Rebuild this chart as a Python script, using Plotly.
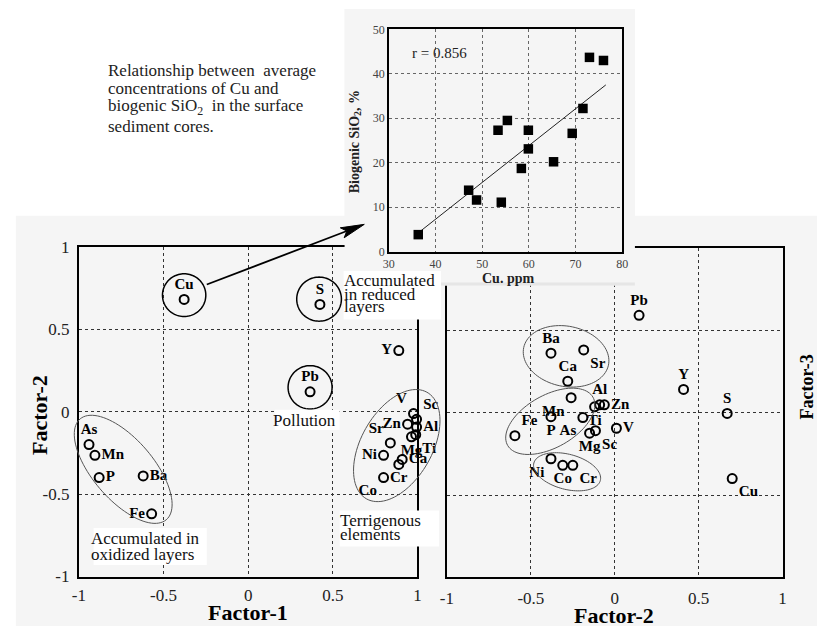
import numpy as np
import plotly.graph_objects as go

W, H = 823, 636
FONT = "Liberation Serif"

# ---------------- data ----------------
# Left panel: Factor-1 vs Factor-2
elements_f12 = ["Cu", "S", "Y", "Pb", "As", "Mn", "P", "Ba", "Fe",
                "V", "Sc", "Zn", "Al", "Ti", "Mg", "Sr", "Ni", "Ca", "Cr", "Co"]
factor1 = [-0.378, 0.424, 0.89, 0.366, -0.94, -0.905, -0.88, -0.62, -0.57,
           0.977, 0.995, 0.942, 0.995, 0.99, 0.965, 0.84, 0.80, 0.91, 0.89, 0.80]
factor2_left = [0.68, 0.65, 0.37, 0.12, -0.20, -0.265, -0.40, -0.39, -0.62,
                -0.012, -0.047, -0.076, -0.094, -0.14, -0.153, -0.19, -0.265, -0.29, -0.32, -0.40]

# Right panel: Factor-2 vs Factor-3
elements_f23 = ["Pb", "Ba", "Sr", "Ca", "Mn", "Al", "Zn", "Ti", "P", "As",
                "Fe", "V", "Sc", "Mg", "Ni", "Co", "Cr", "Y", "S", "Cu"]
factor2_right = [0.145, -0.38, -0.185, -0.28, -0.26, -0.09, -0.062, -0.12, -0.38, -0.19,
                 -0.595, 0.01, -0.115, -0.15, -0.38, -0.31, -0.25, 0.41, 0.67, 0.70]
factor3 = [0.59, 0.36, 0.38, 0.19, 0.09, 0.047, 0.047, 0.035, -0.025, -0.03,
           -0.14, -0.095, -0.11, -0.125, -0.28, -0.32, -0.32, 0.14, -0.005, -0.40]

# Inset: Cu (ppm) vs biogenic SiO2 (%)
cu_ppm = [36.3, 47.1, 48.8, 54.1, 53.4, 55.4, 58.4, 59.9, 59.9, 65.3, 69.3, 71.6, 73.0, 76.0]
biogenic_sio2 = [3.8, 13.8, 11.6, 11.1, 27.3, 29.5, 18.7, 27.3, 23.1, 20.2, 26.6, 32.2, 43.7, 43.0]
trend_cu = [36.3, 76.5]
trend_sio2 = [4.2, 37.5]
r_text = "r = 0.856"

axis_ticks = [-1, -0.5, 0, 0.5, 1]
axis_ticktext = ["-1", "-0.5", "0", "0.5", "1"]
inset_x_ticks = [30, 40, 50, 60, 70, 80]
inset_y_ticks = [0, 10, 20, 30, 40, 50]

# ---------------- label placement (style) ----------------
pos_f12 = ["top center", "top center", "middle left", "top center", "top center",
           "middle right", "middle right", "middle right", "middle left",
           "top left", "top right", "middle left", "middle right", "bottom right",
           "bottom center", "top left", "middle left", "middle right", "bottom center", "bottom left"]
pos_f23 = ["top center", "top center", "bottom right", "top center", "bottom left",
           "top center", "middle right", "bottom center", "bottom center", "bottom left",
           "top right", "middle right", "bottom right", "bottom center", "bottom left",
           "bottom center", "bottom right", "top center", "top center", "bottom right"]

# ---------------- pixel layout ----------------
LEFT = (73, 417, 245, 585)
RIGHT = (447, 788, 246, 586)
BOX = (343, 638, 0, 285)
INSET = (388, 625, 21, 250)


def xdom(p):
    return [p[0] / W, p[1] / W]


def ydom(p):
    return [1 - p[3] / H, 1 - p[2] / H]


def to_px(panel, x, y):
    x0, x1, y0, y1 = panel
    return x0 + (x + 1) / 2 * (x1 - x0), y1 - (y + 1) / 2 * (y1 - y0)


def ellipse_path(panel, cx, cy, a, b, ang):
    s = (panel[1] - panel[0]) / 2
    pcx, pcy = to_px(panel, cx, cy)
    t = np.linspace(0, 2 * np.pi, 96, endpoint=False)
    th = np.radians(ang)
    ex, ey = a * s * np.cos(t), b * s * np.sin(t)
    X = pcx + ex * np.cos(th) - ey * np.sin(th)
    Y = pcy - (ex * np.sin(th) + ey * np.cos(th))
    pts = ["%.5f,%.5f" % (xx / W, 1 - yy / H) for xx, yy in zip(X, Y)]
    return "M" + " L".join(pts) + " Z"


def prect(x0, x1, y0, y1, color, layer="below"):
    return dict(type="rect", xref="paper", yref="paper", x0=x0 / W, x1=x1 / W,
                y0=1 - y1 / H, y1=1 - y0 / H, fillcolor=color, line=dict(width=0), layer=layer)


BG = "#f5f5f5"

fig = go.Figure()

marker_open = dict(symbol="circle-open", size=9, color="black", line=dict(width=2, color="black"))
lblfont = dict(family=FONT, size=15, color="black", weight="bold")

fig.add_trace(go.Scatter(x=factor1, y=factor2_left, mode="markers+text", text=elements_f12,
                         textposition=pos_f12, textfont=lblfont, marker=marker_open,
                         cliponaxis=False, xaxis="x", yaxis="y", hoverinfo="skip"))
fig.add_trace(go.Scatter(x=factor2_right, y=factor3, mode="markers+text", text=elements_f23,
                         textposition=pos_f23, textfont=lblfont, marker=marker_open,
                         cliponaxis=False, xaxis="x2", yaxis="y2", hoverinfo="skip"))
# cover panel for the inset picture
fig.add_trace(go.Scatter(x=[None], y=[None], mode="markers", xaxis="x3", yaxis="y3",
                         hoverinfo="skip"))
fig.add_trace(go.Scatter(x=trend_cu, y=trend_sio2, mode="lines",
                         line=dict(color="#222", width=1), xaxis="x4", yaxis="y4", hoverinfo="skip"))
fig.add_trace(go.Scatter(x=cu_ppm, y=biogenic_sio2, mode="markers",
                         marker=dict(symbol="square", size=9.5, color="black"),
                         cliponaxis=False, xaxis="x4", yaxis="y4", hoverinfo="skip"))

main_axis = dict(range=[-1, 1], tickvals=axis_ticks, ticktext=axis_ticktext, showline=True,
                 linecolor="black", linewidth=2, mirror=True, showgrid=True, gridcolor="#333",
                 gridwidth=1, griddash="dot", zeroline=False, ticks="",
                 tickfont=dict(family=FONT, size=17, color="#222"), fixedrange=True)
inset_axis = dict(showline=True, linecolor="black", linewidth=1.5, mirror=True, showgrid=True,
                  gridcolor="#666", gridwidth=1, griddash="dot", zeroline=False, ticks="",
                  tickfont=dict(family=FONT, size=12, color="#444"), fixedrange=True)

fig.update_layout(
    width=W, height=H, margin=dict(l=0, r=0, t=0, b=0),
    paper_bgcolor="white", plot_bgcolor=BG, showlegend=False, hovermode=False,
    xaxis=dict(main_axis, domain=xdom(LEFT), anchor="y", ticklabelstandoff=2),
    yaxis=dict(main_axis, domain=ydom(LEFT), anchor="x", ticklabelstandoff=4),
    xaxis2=dict(main_axis, domain=xdom(RIGHT), anchor="y2", ticklabelstandoff=4),
    yaxis2=dict(main_axis, domain=ydom(RIGHT), anchor="x2", showticklabels=False),
    xaxis3=dict(domain=xdom(BOX), anchor="y3", visible=False, range=[0, 1], fixedrange=True),
    yaxis3=dict(domain=ydom(BOX), anchor="x3", visible=False, range=[0, 1], fixedrange=True),
    xaxis4=dict(inset_axis, domain=xdom(INSET), anchor="y4", range=[30, 80], tickvals=inset_x_ticks),
    yaxis4=dict(inset_axis, domain=ydom(INSET), anchor="x4", range=[0, 50], tickvals=inset_y_ticks),
)

shapes = [
    prect(9, W, 213, H, BG),
    prect(343, 638, 0, 213, BG),
    prect(343, 638, 282, 285, "#e6e6e6", layer="above"),
]
# grouping ellipses / circles
ell = [
    (LEFT, -0.738, -0.35, 0.395, 0.18, -50, "#555", 1),
    (LEFT, 0.878, -0.206, 0.366, 0.21, 61, "#555", 1),
    (LEFT, -0.378, 0.706, 0.128, 0.128, 0, "black", 1.5),
    (LEFT, 0.419, 0.682, 0.132, 0.132, 0, "black", 1.5),
    (LEFT, 0.366, 0.147, 0.13, 0.13, 0, "black", 1.5),
    (RIGHT, -0.29, 0.341, 0.258, 0.182, -12, "#555", 1),
    (RIGHT, -0.384, -0.053, 0.293, 0.158, 30, "#555", 1),
    (RIGHT, -0.284, -0.359, 0.205, 0.106, -15, "#555", 1),
]
for panel, cx, cy, a, b, ang, col, lw in ell:
    shapes.append(dict(type="path", xref="paper", yref="paper",
                       path=ellipse_path(panel, cx, cy, a, b, ang),
                       line=dict(color=col, width=lw), layer="above"))

# white text boxes
shapes += [
    prect(342, 441, 270, 320, "white", layer="above"),
    prect(272, 338, 413, 434, "white", layer="above"),
    prect(338, 439, 517, 554, "white", layer="above"),
    prect(88, 203, 535, 573, "white", layer="above"),
]

# arrow from Cu circle to the inset
tail = np.array([203.0, 284.0])
tip = np.array([363.0, 222.0])
d = (tip - tail) / np.linalg.norm(tip - tail)
nrm = np.array([-d[1], d[0]])
base = tip - d * 24
notch = tip - d * 19
shapes.append(dict(type="line", xref="paper", yref="paper", x0=tail[0] / W, y0=1 - tail[1] / H,
                   x1=notch[0] / W, y1=1 - notch[1] / H, line=dict(color="black", width=1.8),
                   layer="above"))
pA = base + nrm * 5.5
pB = base - nrm * 5.5
head = [tip, pA, notch, pB]
shapes.append(dict(type="path", xref="paper", yref="paper",
                   path="M" + " L".join("%.5f,%.5f" % (p[0] / W, 1 - p[1] / H) for p in head) + " Z",
                   fillcolor="black", line=dict(color="black", width=1), layer="above"))

fig.update_layout(shapes=shapes)

ann = []


def txt(x, y, s, size=17, bold=False, angle=0, xanchor="left", color="#111"):
    ann.append(dict(x=x / W, y=1 - y / H, xref="paper", yref="paper", text=s, showarrow=False,
                    xanchor=xanchor, yanchor="middle", textangle=angle,
                    font=dict(family=FONT, size=size, color=color,
                              weight="bold" if bold else "normal")))


# caption
for yy, line in zip([63, 82, 101, 121], ["Relationship between  average",
                                         "concentrations of Cu and",
                                         "biogenic SiO<sub>2</sub>  in the surface",
                                         "sediment cores."]):
    txt(101, yy, line, size=17, color="#222")

# boxed labels
for yy, line in zip([280, 294, 307], ["Accumulated", "in reduced", "layers"]):
    txt(340, yy, line)
txt(268, 424, "Pollution")
for yy, line in zip([527, 542], ["Terrigenous", "elements"]):
    txt(336, yy, line)
for yy, line in zip([546, 562], ["Accumulated in", "oxidized layers"]):
    txt(83, yy, line)

# axis titles
txt(245, 622, "Factor-1", size=22, bold=True, xanchor="center", color="black")
txt(33, 418, "Factor-2", size=22, bold=True, angle=-90, xanchor="center", color="black")
txt(617, 625, "Factor-2", size=22, bold=True, xanchor="center", color="black")
txt(813, 390, "Factor-3", size=18, bold=True, angle=-90, xanchor="center", color="black")

# inset texts
txt(409, 45, r_text, size=15, color="#222")
txt(509, 278, "Cu. ppm", size=14, bold=True, xanchor="center", color="#222")
txt(354, 137, "Biogenic SiO<sub>2</sub>, %", size=14, bold=True, angle=-90, xanchor="center",
    color="#222")

fig.update_layout(annotations=ann)

fig.write_html("out.html")
